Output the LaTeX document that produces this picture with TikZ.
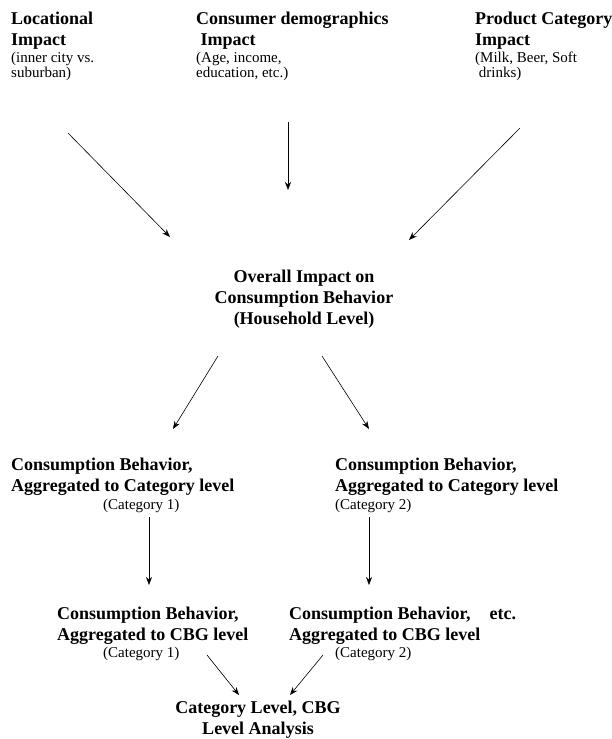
\documentclass[tikz,border=0pt]{standalone}
\usepackage{fontspec}
\setmainfont{Liberation Serif}
\usetikzlibrary{arrows.meta}
\newcommand{\smallnote}{\fontsize{15}{16}\mdseries\selectfont}
\begin{document}
\begin{tikzpicture}[x=1pt,y=-1pt]
\tikzstyle{every node}=[font=\fontsize{18}{21}\selectfont\bfseries,inner sep=0pt,anchor=north west,align=left]
\tikzstyle{arr}=[-{Stealth[length=8pt,width=6pt]},line width=0.6pt]
\useasboundingbox (0,0) rectangle (612,739);
% three kinds of impact
\node (loc) at (11,11.8) {Locational\\Impact\\[-4pt]{\smallnote (inner city vs.}\\[-5.5pt]{\smallnote suburban)}};
\node (demo) at (196,11.8) {Consumer demographics\\\ Impact\\[-4pt]{\smallnote (Age, income,}\\[-5.5pt]{\smallnote education, etc.)}};
\node (prod) at (475,11.8) {Product Category\\Impact\\[-4pt]{\smallnote (Milk, Beer, Soft}\\[-5.5pt]{\smallnote\ drinks)}};
% household level
\node[anchor=north,align=center] (overall) at (304,269.6) {Overall Impact on\\Consumption Behavior\\(Household Level)};
% category level
\node (cat1) at (11,457.8) {Consumption Behavior,\\Aggregated to Category level\\[-3pt]{\smallnote\hspace*{92pt}(Category 1)}};
\node (cat2) at (335,457.8) {Consumption Behavior,\\Aggregated to Category level\\[-3pt]{\smallnote (Category 2)}};
% CBG level
\node (cbg1) at (57,606.8) {Consumption Behavior,\\Aggregated to CBG level\\[-4pt]{\smallnote\hspace*{46pt}(Category 1)}};
\node (cbg2) at (289,606.8) {Consumption Behavior,\hspace{19pt}etc.\\Aggregated to CBG level\\[-4pt]{\smallnote\hspace*{46pt}(Category 2)}};
\node[anchor=north,align=center] (final) at (258,700.6) {Category Level, CBG\\Level Analysis};
% arrow ends
\coordinate (loc-out) at (68,133);
\coordinate (demo-out) at (288,122);
\coordinate (prod-out) at (520,128);
\coordinate (overall-in1) at (170,237);
\coordinate (overall-in2) at (288,190);
\coordinate (overall-in3) at (409,240);
\coordinate (overall-out1) at (218,356);
\coordinate (overall-out2) at (322,356);
\coordinate (cat1-in) at (173,429);
\coordinate (cat2-in) at (369,429);
\coordinate (cat1-out) at (149,517);
\coordinate (cat2-out) at (369,517);
\coordinate (cbg1-in) at (149,585);
\coordinate (cbg2-in) at (369,585);
\coordinate (cbg1-out) at (207,655);
\coordinate (cbg2-out) at (323,655);
\coordinate (final-in1) at (239,695);
\coordinate (final-in2) at (290,695);
\draw[arr] (loc-out) -- (overall-in1);
\draw[arr] (demo-out) -- (overall-in2);
\draw[arr] (prod-out) -- (overall-in3);
\draw[arr] (overall-out1) -- (cat1-in);
\draw[arr] (overall-out2) -- (cat2-in);
\draw[arr] (cat1-out) -- (cbg1-in);
\draw[arr] (cat2-out) -- (cbg2-in);
\draw[arr] (cbg1-out) -- (final-in1);
\draw[arr] (cbg2-out) -- (final-in2);
\end{tikzpicture}
\end{document}
